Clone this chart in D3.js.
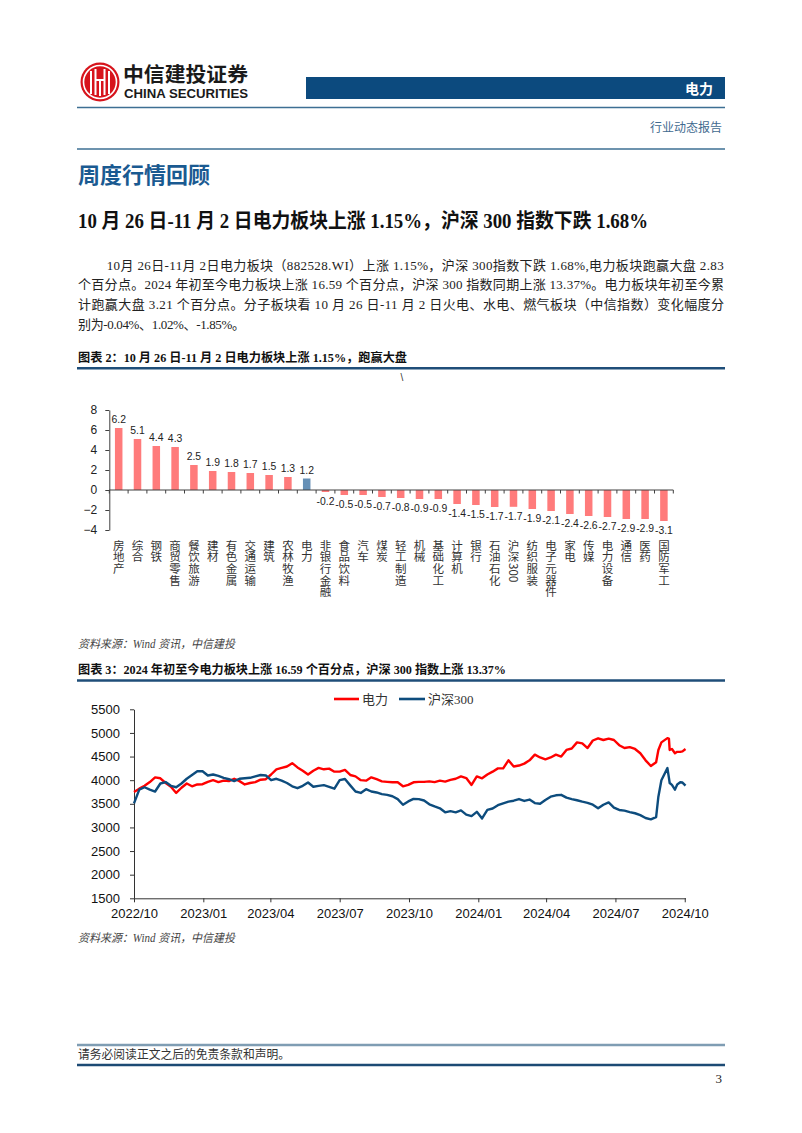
<!DOCTYPE html>
<html><head><meta charset="utf-8">
<script src="https://cdn.jsdelivr.net/npm/d3@7"></script>
<style>body{margin:0;background:#fff}svg{display:block}</style>
</head><body>
<svg id="page" width="802" height="1133"></svg>
<script>
// ---------- DATA ----------
const barCategories = ["房地产","综合","钢铁","商贸零售","餐饮旅游","建材","有色金属","交通运输","建筑","农林牧渔","电力","非银行金融","食品饮料","汽车","煤炭","轻工制造","机械","基础化工","计算机","银行","石油石化","沪深300","纺织服装","电子元器件","家电","传媒","电力设备","通信","医药","国防军工"];
const barValues = [6.2,5.1,4.4,4.3,2.5,1.9,1.8,1.7,1.5,1.3,1.15,-0.2,-0.5,-0.5,-0.7,-0.8,-0.9,-0.9,-1.4,-1.5,-1.7,-1.68,-1.9,-2.1,-2.4,-2.6,-2.7,-2.9,-2.9,-3.1];
const barHighlight = "电力";
const barTicks = [8,6,4,2,0,-2,-4];

const lineDates = ["2022-10-31","2022-11-07","2022-11-14","2022-11-21","2022-11-28","2022-12-05","2022-12-12","2022-12-19","2022-12-26",
"2023-01-02","2023-01-09","2023-01-16","2023-01-23","2023-01-30","2023-02-06","2023-02-13","2023-02-20","2023-02-27","2023-03-06","2023-03-13","2023-03-20","2023-03-27",
"2023-04-03","2023-04-10","2023-04-17","2023-04-24","2023-05-01","2023-05-08","2023-05-15","2023-05-22","2023-05-29","2023-06-05","2023-06-12","2023-06-19","2023-06-26",
"2023-07-03","2023-07-10","2023-07-17","2023-07-24","2023-07-31","2023-08-07","2023-08-14","2023-08-21","2023-08-28","2023-09-04","2023-09-11","2023-09-18","2023-09-25",
"2023-10-02","2023-10-09","2023-10-16","2023-10-23","2023-10-30","2023-11-06","2023-11-13","2023-11-20","2023-11-27","2023-12-04","2023-12-11","2023-12-18","2023-12-25",
"2024-01-01","2024-01-08","2024-01-15","2024-01-22","2024-01-29","2024-02-05","2024-02-12","2024-02-19","2024-02-26","2024-03-04","2024-03-11","2024-03-18","2024-03-25",
"2024-04-01","2024-04-08","2024-04-15","2024-04-22","2024-04-29","2024-05-06","2024-05-13","2024-05-20","2024-05-27","2024-06-03","2024-06-10","2024-06-17","2024-06-24",
"2024-07-01","2024-07-08","2024-07-15","2024-07-22","2024-07-29","2024-08-05","2024-08-12","2024-08-19","2024-08-26","2024-09-02","2024-09-09","2024-09-16","2024-09-23",
"2024-09-26","2024-09-30","2024-10-08","2024-10-10","2024-10-11","2024-10-14","2024-10-18","2024-10-21","2024-10-25","2024-10-28","2024-11-01"];
const powerValues = [3750,3820,3880,3960,4060,4040,3940,3860,3730,
3840,3930,3870,3910,3915,3965,4000,3960,3990,3980,4030,3980,3910,
3940,3960,4010,4020,4120,4230,4260,4290,4360,4270,4200,4120,4200,
4260,4230,4245,4180,4180,4216,4110,4080,4000,3990,4060,4020,3975,
3965,3955,3955,3870,3900,3955,3965,3965,3975,3960,3990,3970,4005,
4030,4080,4045,3900,4080,4040,4120,4180,4250,4250,4420,4290,4310,
4350,4420,4540,4480,4440,4480,4540,4500,4640,4670,4800,4780,4680,
4840,4886,4850,4880,4850,4740,4680,4700,4660,4570,4420,4300,4380,
4640,4800,4890,4880,4640,4660,4570,4600,4600,4610,4660];
const csi300Values = [3510,3800,3850,3800,3760,3930,3960,3880,3850,
3930,4030,4110,4190,4190,4100,4120,4090,4050,4020,3980,4030,4040,
4050,4080,4110,4100,4000,4030,3990,3940,3870,3830,3880,3950,3860,
3880,3895,3860,3820,4000,4025,3890,3760,3730,3810,3760,3740,3705,
3690,3660,3600,3480,3550,3605,3600,3570,3490,3445,3405,3320,3345,
3320,3360,3270,3240,3330,3190,3370,3400,3470,3510,3545,3565,3600,
3560,3590,3515,3500,3580,3650,3680,3690,3630,3600,3575,3545,3520,
3480,3405,3480,3530,3420,3370,3355,3325,3300,3260,3200,3172,3220,
3650,4000,4255,4050,3940,3900,3800,3910,3955,3950,3885];
const lineSeriesNames = ["电力","沪深300"];
const lineTickDates = ["2022-10-31","2023-01-31","2023-04-30","2023-07-31","2023-10-31","2024-01-31","2024-04-30","2024-07-31","2024-10-31"];
const lineYTicks = [1500,2000,2500,3000,3500,4000,4500,5000,5500];

// ---------- STYLE ----------
const SERIF = "'Liberation Serif','Noto Sans CJK SC',serif";
const SANS = "'Liberation Sans',Arial,'Noto Sans CJK SC',sans-serif";
const CJK = "'Noto Sans CJK SC',sans-serif";
const RED = "#ff0000", NAVY = "#0d4c7d";

const svg = d3.select("#page");

// ---------- HEADER ----------
const hdr = svg.append("g");
hdr.append("circle").attr("cx",100).attr("cy",82).attr("r",19.5).attr("fill","#d7141c");
hdr.append("circle").attr("cx",100).attr("cy",82).attr("r",16.5).attr("fill","none").attr("stroke","#fff").attr("stroke-width",1.6);
hdr.append("path").attr("d","M91,71 V94 M95.5,69 V95 M104.5,69 V95 M109,71 V94 M95.5,80 H104.5 M100,80 V96")
  .attr("stroke","#fff").attr("stroke-width",2).attr("fill","none");
hdr.append("text").attr("x",123).attr("y",82).attr("font-family",CJK).attr("font-weight",700)
  .attr("font-size",20).attr("textLength",125).attr("lengthAdjust","spacingAndGlyphs").attr("fill","#1a1a1a").text("中信建投证券");
hdr.append("text").attr("x",124).attr("y",97.5).attr("font-family",SANS).attr("font-weight",700)
  .attr("font-size",12).attr("textLength",124).attr("lengthAdjust","spacingAndGlyphs").attr("fill","#1a1a1a").text("CHINA SECURITIES");
hdr.append("rect").attr("x",306).attr("y",77).attr("width",419).attr("height",22).attr("fill","#0c4a7e");
hdr.append("text").attr("x",713).attr("y",88).attr("text-anchor","end").attr("dominant-baseline","central")
  .attr("font-family",CJK).attr("font-weight",700).attr("font-size",14).attr("fill","#fff").text("电力");
hdr.append("line").attr("x1",77).attr("x2",725).attr("y1",107.5).attr("y2",107.5).attr("stroke","#3d6f93").attr("stroke-width",1.5);
hdr.append("text").attr("x",722).attr("y",126).attr("text-anchor","end").attr("dominant-baseline","central")
  .attr("font-family",CJK).attr("font-size",12).attr("fill","#3f6a8f").text("行业动态报告");
hdr.append("line").attr("x1",77).attr("x2",725).attr("y1",149).attr("y2",149).attr("stroke","#3d6f93").attr("stroke-width",1.5);
hdr.append("text").attr("x",78).attr("y",173).attr("dominant-baseline","central")
  .attr("font-family",CJK).attr("font-weight",700).attr("font-size",22).attr("fill","#1a5a91").text("周度行情回顾");

// ---------- TITLE & BODY ----------
svg.append("text").attr("x",78).attr("y",221).attr("dominant-baseline","central")
  .attr("font-family",SERIF).attr("font-weight",700).attr("font-size",20).attr("fill","#111")
  .attr("textLength",570).attr("lengthAdjust","spacingAndGlyphs")
  .text("10 月 26 日-11 月 2 日电力板块上涨 1.15%，沪深 300 指数下跌 1.68%");

const bodyLines = [
  {x:106.7, y:265, w:617, t:"10月 26日-11月 2日电力板块（882528.WI）上涨 1.15%，沪深 300指数下跌 1.68%,电力板块跑赢大盘 2.83"},
  {x:78, y:284.5, w:646, t:"个百分点。2024 年初至今电力板块上涨 16.59 个百分点，沪深 300 指数同期上涨 13.37%。电力板块年初至今累"},
  {x:78, y:304.5, w:646, t:"计跑赢大盘 3.21 个百分点。分子板块看 10 月 26 日-11 月 2 日火电、水电、燃气板块（中信指数）变化幅度分"},
  {x:78, y:324.5, w:167, t:"别为-0.04%、1.02%、-1.85%。"}
];
bodyLines.forEach(l=>{
  svg.append("text").attr("x",l.x).attr("y",l.y).attr("dominant-baseline","central")
    .attr("font-family",SERIF).attr("font-size",13).attr("fill","#222")
    .attr("textLength",l.w).attr("lengthAdjust","spacing").text(l.t);
});

// ---------- CAPTION helper ----------
function caption(y, w, txt){
  svg.append("text").attr("x",78).attr("y",y).attr("dominant-baseline","central")
    .attr("font-family",SERIF).attr("font-weight",700).attr("font-size",12.5).attr("fill","#111")
    .attr("textLength",w).attr("lengthAdjust","spacingAndGlyphs").text(txt);
  svg.append("line").attr("x1",77).attr("x2",725).attr("y1",y+10.5).attr("y2",y+10.5)
    .attr("stroke","#1f4e79").attr("stroke-width",2.5);
}
function source(y){
  svg.append("text").attr("x",78).attr("y",y).attr("dominant-baseline","central")
    .attr("font-family",SERIF).attr("font-style","italic").attr("font-size",11.5).attr("fill","#444")
    .attr("textLength",157).attr("lengthAdjust","spacingAndGlyphs").text("资料来源：Wind 资讯，中信建投");
}
caption(357.7, 329, "图表 2：10 月 26 日-11 月 2 日电力板块上涨 1.15%，跑赢大盘");
svg.append("text").attr("x",402).attr("y",377).attr("text-anchor","middle").attr("dominant-baseline","central")
  .attr("font-family",SANS).attr("font-size",10).attr("fill","#333").text("\\");

// ---------- BAR CHART ----------
const bx = d3.scaleBand().domain(barCategories).range([109.3, 673.3]).paddingInner(0.6).paddingOuter(0.3);
const by = d3.scaleLinear().domain([-4, 8]).range([530, 410]);
const bg = svg.append("g");
const yAx = bg.append("g").attr("transform","translate(109.3,0)")
  .call(d3.axisLeft(by).tickValues(barTicks).tickSize(4).tickSizeOuter(0).tickPadding(8).tickFormat(d3.format("d")));
yAx.select(".domain").attr("stroke","#404040");
yAx.selectAll(".tick line").attr("stroke","#404040");
yAx.selectAll("text").attr("font-family",SANS).attr("font-size",12).attr("fill","#222");

bg.selectAll("rect.bar").data(barCategories).join("rect").attr("class","bar")
  .attr("x",d=>bx(d)).attr("width",bx.bandwidth())
  .attr("y",(d,i)=>by(Math.max(0,barValues[i])))
  .attr("height",(d,i)=>Math.abs(by(barValues[i])-by(0)))
  .attr("fill",d=>d===barHighlight?"#6690b6":"#ff7b7b");

// zero axis with boundary ticks
const step = bx.step();
bg.append("line").attr("x1",109.3).attr("x2",673.3).attr("y1",by(0)).attr("y2",by(0)).attr("stroke","#404040");
const bounds = barCategories.map(c=>bx(c)-step*0.3).concat([673.3]);
bg.selectAll("line.bt").data(bounds).join("line").attr("class","bt")
  .attr("x1",d=>d).attr("x2",d=>d).attr("y1",by(0)).attr("y2",by(0)+3.5).attr("stroke","#404040");

const fmt1 = v => (Math.round(v*10)/10).toFixed(1);
bg.selectAll("text.val").data(barCategories).join("text").attr("class","val")
  .attr("x",d=>bx(d)+bx.bandwidth()/2)
  .attr("y",(d,i)=>barValues[i]>=0 ? by(barValues[i])-5 : by(barValues[i])+13)
  .attr("text-anchor","middle").attr("font-family",SANS).attr("font-size",10.4).attr("fill","#222")
  .text((d,i)=>fmt1(barValues[i]));

// vertical category labels
bg.selectAll("text.cat").data(barCategories).join("text").attr("class","cat")
  .attr("x",d=>bx(d)+bx.bandwidth()/2).attr("y",539.5)
  .attr("style","writing-mode: vertical-rl; text-orientation: mixed")
  .attr("font-family",CJK).attr("font-size",11.5).attr("letter-spacing",0.2).attr("fill","#333")
  .text(d=>d);

source(644);
caption(670, 428, "图表 3：2024 年初至今电力板块上涨 16.59 个百分点，沪深 300 指数上涨 13.37%");

// ---------- LINE CHART ----------
const parse = d3.timeParse("%Y-%m-%d");
const dates = lineDates.map(parse);
const lx = d3.scaleTime().domain([parse("2022-10-31"), parse("2024-11-01")]).range([134, 685.5]);
const ly = d3.scaleLinear().domain([1500, 5500]).range([898.3, 709.3]);
const lg = svg.append("g");

const xAx = lg.append("g").attr("transform","translate(0,898.3)")
  .call(d3.axisBottom(lx).tickValues(lineTickDates.map(parse)).tickFormat(d3.timeFormat("%Y/%m"))
    .tickSize(4).tickSizeOuter(0).tickPadding(6));
const yAx2 = lg.append("g").attr("transform","translate(134,0)")
  .call(d3.axisLeft(ly).tickValues(lineYTicks).tickSize(4).tickSizeOuter(0).tickPadding(10).tickFormat(d3.format("d")));
[xAx,yAx2].forEach(a=>{
  a.select(".domain").attr("stroke","#333");
  a.selectAll(".tick line").attr("stroke","#333");
  a.selectAll("text").attr("font-family",SANS).attr("font-size",13).attr("fill","#111");
});

const lineGen = d3.line().x((d,i)=>lx(dates[i])).y(d=>ly(d));
lg.append("path").datum(powerValues).attr("d",lineGen).attr("fill","none").attr("stroke",RED)
  .attr("stroke-width",2.4).attr("stroke-linejoin","round");
lg.append("path").datum(csi300Values).attr("d",lineGen).attr("fill","none").attr("stroke",NAVY)
  .attr("stroke-width",2.4).attr("stroke-linejoin","round");

// legend
const legend = [{name:lineSeriesNames[0], color:RED, x1:334, x2:359}, {name:lineSeriesNames[1], color:NAVY, x1:399, x2:425}];
legend.forEach(L=>{
  lg.append("line").attr("x1",L.x1).attr("x2",L.x2).attr("y1",699).attr("y2",699).attr("stroke",L.color).attr("stroke-width",2.6);
  lg.append("text").attr("x",L.x2+3).attr("y",699).attr("dominant-baseline","central")
    .attr("font-family",SERIF).attr("font-size",13).attr("fill","#333").text(L.name);
});

source(937.5);

// ---------- FOOTER ----------
svg.append("line").attr("x1",77).attr("x2",725).attr("y1",1045).attr("y2",1045).attr("stroke","#7f9db3").attr("stroke-width",2.5);
svg.append("text").attr("x",78).attr("y",1054.5).attr("dominant-baseline","central")
  .attr("font-family",SERIF).attr("font-size",12.5).attr("fill","#333")
  .attr("textLength",212).attr("lengthAdjust","spacingAndGlyphs").text("请务必阅读正文之后的免责条款和声明。");
svg.append("line").attr("x1",77).attr("x2",725).attr("y1",1065).attr("y2",1065).attr("stroke","#1c4a74").attr("stroke-width",2.5);
svg.append("text").attr("x",722).attr("y",1078).attr("text-anchor","end").attr("dominant-baseline","central")
  .attr("font-family",SERIF).attr("font-size",13).attr("fill","#222").text("3");
</script>
</body></html>
